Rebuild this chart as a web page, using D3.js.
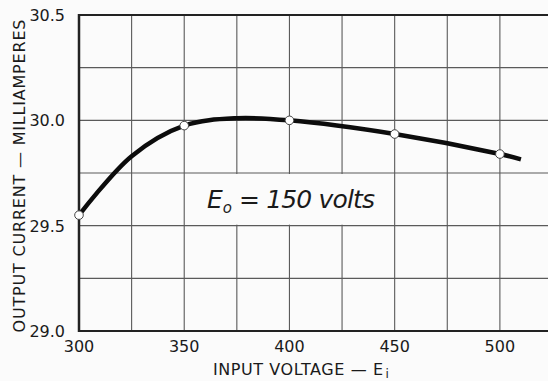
<!DOCTYPE html>
<html>
<head>
<meta charset="utf-8">
<script src="https://cdn.jsdelivr.net/npm/d3@7"></script>
<style>
  html, body { margin: 0; padding: 0; background: #fbfbfb; }
  svg { display: block; }
  text { font-family: "DejaVu Sans", sans-serif; fill: #1a1a1a; }
</style>
</head>
<body>
<svg id="chart" width="548" height="381"></svg>
<script>
// Measured points (input volts, output mA)
const inputVolts = [300, 350, 400, 450, 500];
const outputMa = [29.55, 29.975, 30.0, 29.935, 29.84];

// Faired curve drawn through the measurements
const curveVolts = [300, 325, 350, 375, 400, 450, 500, 510];
const curveMa = [29.55, 29.83, 29.975, 30.01, 30.0, 29.935, 29.84, 29.815];

// Axis ticks and grid
const xTickLabels = [300, 350, 400, 450, 500];
const xGrid = [300, 325, 350, 375, 400, 425, 450, 475, 500, 525];
const yTickLabels = ["29.0", "29.5", "30.0", "30.5"];
const yGrid = [29.0, 29.25, 29.5, 29.75, 30.0, 30.25, 30.5];

const svg = d3.select("#chart");
const x = d3.scaleLinear().domain([300, 525]).range([79, 552.5]);
const y = d3.scaleLinear().domain([29.0, 30.5]).range([331, 15]);

// Grid
const grid = svg.append("g").attr("stroke", "#5a5a5a").attr("stroke-width", 1.1);
grid.selectAll("line.v").data(xGrid).join("line")
  .attr("x1", d => x(d)).attr("x2", d => x(d))
  .attr("y1", y(30.5)).attr("y2", y(29.0));
grid.selectAll("line.h").data(yGrid).join("line")
  .attr("x1", x(300)).attr("x2", x(525))
  .attr("y1", d => y(d)).attr("y2", d => y(d));

// Label panel covering the 350–450 V, 29.5–29.75 mA block
svg.append("rect")
  .attr("x", x(350) + 1).attr("y", y(29.75) + 1)
  .attr("width", x(450) - x(350) - 2).attr("height", y(29.5) - y(29.75) - 2)
  .attr("fill", "#fbfbfb");

// Frame: heavier left, bottom and top edges
const frame = svg.append("g").attr("stroke", "#222").attr("fill", "none");
frame.append("line").attr("x1", x(300)).attr("x2", x(300))
  .attr("y1", y(30.5) - 1).attr("y2", y(29.0) + 1).attr("stroke-width", 2.5);
frame.append("line").attr("x1", x(300)).attr("x2", x(525))
  .attr("y1", y(29.0)).attr("y2", y(29.0)).attr("stroke-width", 2);
frame.append("line").attr("x1", x(300)).attr("x2", x(525))
  .attr("y1", y(30.5)).attr("y2", y(30.5)).attr("stroke-width", 1.8);

// Curve
const pts = curveVolts.map((v, i) => [v, curveMa[i]]);
const line = d3.line().x(d => x(d[0])).y(d => y(d[1])).curve(d3.curveCatmullRom.alpha(0.5));
svg.append("path").datum(pts)
  .attr("d", line)
  .attr("fill", "none").attr("stroke", "#0c0c0c")
  .attr("stroke-width", 4.5).attr("stroke-linecap", "butt");

// Measured points
svg.selectAll("circle.pt").data(inputVolts).join("circle")
  .attr("cx", d => x(d)).attr("cy", (d, i) => y(outputMa[i]))
  .attr("r", 4.3).attr("fill", "#fff").attr("stroke", "#444").attr("stroke-width", 1);

// Tick labels
svg.selectAll("text.xt").data(xTickLabels).join("text")
  .attr("x", d => x(d)).attr("y", 352)
  .attr("text-anchor", "middle").attr("font-size", 16)
  .text(d => d);
svg.selectAll("text.yt").data(yTickLabels).join("text")
  .attr("x", 65).attr("y", d => y(+d) + 6)
  .attr("text-anchor", "end").attr("font-size", 16)
  .text(d => d);

// Axis titles
const xt = svg.append("text").attr("x", 213).attr("y", 375)
  .attr("font-size", 16);
xt.append("tspan").attr("textLength", 170).attr("lengthAdjust", "spacing")
  .text("INPUT VOLTAGE — E");
xt.append("tspan").attr("font-size", 12).attr("dy", 3).attr("dx", 2).text("i");

svg.append("text")
  .attr("transform", "translate(25,176) rotate(-90)")
  .attr("text-anchor", "middle").attr("font-size", 16)
  .attr("textLength", 313).attr("lengthAdjust", "spacing")
  .text("OUTPUT CURRENT — MILLIAMPERES");

// Operating-condition note
const note = svg.append("text").attr("x", 207).attr("y", 208)
  .attr("font-size", 25).attr("font-style", "italic")
  .attr("font-family", "Lato, 'Open Sans', sans-serif").attr("font-weight", 300);
note.append("tspan").text("E");
note.append("tspan").attr("font-size", 15).attr("dy", 5).text("o");
note.append("tspan").attr("dy", -5).attr("textLength", 143).attr("lengthAdjust", "spacing")
  .text(" = 150 volts");
</script>
</body>
</html>
